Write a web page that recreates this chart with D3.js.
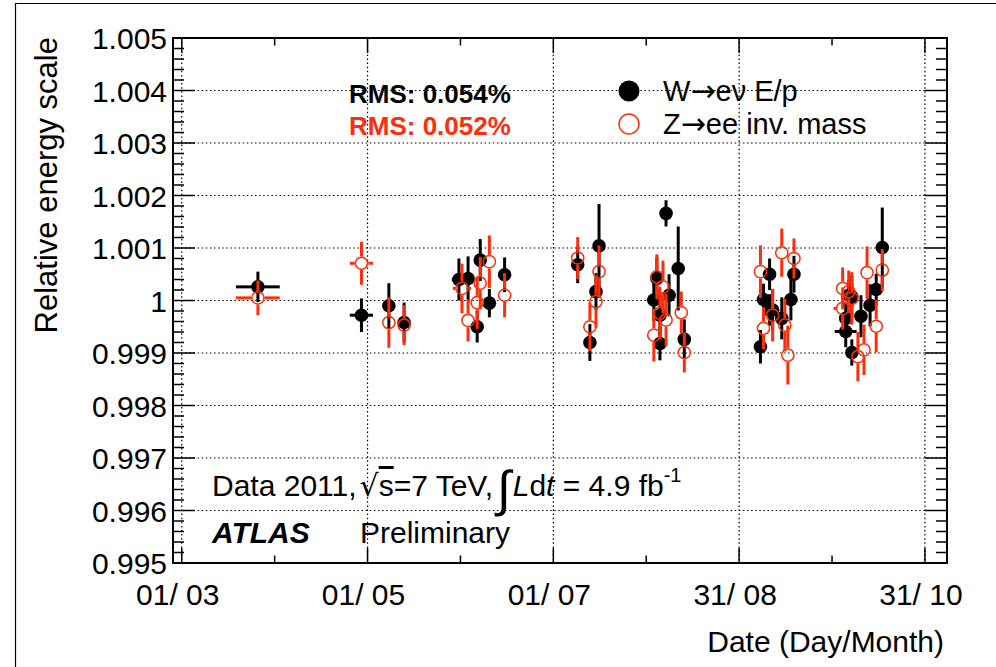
<!DOCTYPE html>
<html>
<head>
<meta charset="utf-8">
<script src="https://cdn.jsdelivr.net/npm/d3@7"></script>
<style>
  body { margin: 0; background: #fff; }
  svg { font-family: 'Liberation Sans', Arial, Helvetica, sans-serif; }
</style>
</head>
<body>
<div class="canva"></div>
<script>
// W -> e nu  E/p  (black, filled)
const wDates  = ['2011-03-26','2011-04-29','2011-05-08','2011-05-13',
                 '2011-05-31','2011-06-03','2011-06-06','2011-06-07','2011-06-10','2011-06-15',
                 '2011-07-09','2011-07-16','2011-07-15','2011-07-13',
                 '2011-08-07','2011-08-11','2011-08-13','2011-08-03','2011-08-04','2011-08-08','2011-08-05','2011-08-05',
                 '2011-09-07','2011-09-08','2011-09-10','2011-09-10','2011-09-11','2011-09-14','2011-09-17','2011-09-18',
                 '2011-10-05','2011-10-05','2011-10-06','2011-10-07','2011-10-07','2011-10-10','2011-10-13','2011-10-15','2011-10-17'];
const wValues = [1.00026, 0.99972, 0.99990, 0.99958,
                 1.00040, 1.00042, 0.99950, 1.00077, 0.99995, 1.00049,
                 1.00068, 1.00104, 1.00017, 0.99920,
                 1.00166, 1.00061, 0.99926, 1.00001, 1.00042, 1.00010, 0.99972, 0.99918,
                 0.99912, 1.00002, 0.99982, 1.00050, 0.99982, 0.99966, 1.00002, 1.00050,
                 0.99941, 0.99966, 1.00010, 1.00007, 0.99901, 0.99970, 0.99991, 1.00021, 1.00101];
const wErrors = [0.00029, 0.00032, 0.00043, 0.00038,
                 0.00040, 0.00042, 0.00030, 0.00040, 0.00027, 0.00033,
                 0.00035, 0.00080, 0.00035, 0.00035,
                 0.00025, 0.00080, 0.00038, 0.00040, 0.00040, 0.00040, 0.00040, 0.00032,
                 0.00032, 0.00030, 0.00030, 0.00030, 0.00040, 0.00040, 0.00040, 0.00035,
                 0.00030, 0.00030, 0.00030, 0.00040, 0.00025, 0.00040, 0.00040, 0.00030, 0.00076];
const wDayErr = [7.2, 3.8, 0, 0,
                 2.3, 0, 0, 0, 0, 0,
                 0, 0, 0, 0,
                 0, 0, 0, 2.3, 0, 0, 0, 0,
                 0, 0, 0, 0, 0, 0, 0, 0,
                 3.6, 0, 0, 0, 0, 0, 0, 0, 0];

// Z -> ee invariant mass (red, open)
const zDates  = ['2011-03-26','2011-04-29','2011-05-08','2011-05-13',
                 '2011-06-01','2011-06-10','2011-06-07','2011-06-15','2011-06-06','2011-06-03',
                 '2011-07-09','2011-07-16','2011-07-15','2011-07-13',
                 '2011-08-04','2011-08-06','2011-08-05','2011-08-07','2011-08-03','2011-08-12','2011-08-13',
                 '2011-09-07','2011-09-14','2011-09-18','2011-09-11','2011-09-15','2011-09-08','2011-09-16',
                 '2011-10-04','2011-10-04','2011-10-06','2011-10-07','2011-10-11','2011-10-09','2011-10-12','2011-10-15','2011-10-17'];
const zValues = [1.00005, 1.00071, 0.99958, 0.99953,
                 1.00023, 1.00074, 1.00033, 1.00010, 0.99996, 0.99962,
                 1.00081, 1.00055, 0.99998, 0.99950,
                 1.00045, 1.00026, 0.99976, 0.99963, 0.99934, 0.99977, 0.99901,
                 1.00055, 1.00091, 1.00080, 0.99972, 0.99953, 0.99947, 0.99896,
                 0.99985, 1.00023, 1.00017, 1.00004, 0.99906, 0.99893, 1.00053, 0.99951, 1.00058];
const zErrors = [0.00033, 0.00041, 0.00048, 0.00038,
                 0.00047, 0.00050, 0.00050, 0.00042, 0.00050, 0.00040,
                 0.00040, 0.00050, 0.00050, 0.00046,
                 0.00043, 0.00050, 0.00050, 0.00050, 0.00050, 0.00040, 0.00038,
                 0.00050, 0.00046, 0.00038, 0.00050, 0.00050, 0.00040, 0.00056,
                 0.00040, 0.00040, 0.00040, 0.00050, 0.00048, 0.00047, 0.00050, 0.00050, 0.00040];
const zDayErr = [7.2, 3.8, 0, 0,
                 3, 0, 0, 0, 0, 0,
                 0, 0, 0, 0,
                 0, 0, 0, 0, 2, 0, 0,
                 0, 0, 0, 0, 0, 0, 0,
                 3, 0, 0, 0, 0, 0, 0, 0, 0];

const yTicks = [0.995, 0.996, 0.997, 0.998, 0.999, 1, 1.001, 1.002, 1.003, 1.004, 1.005];
const yTickLabels = ['0.995','0.996','0.997','0.998','0.999','1','1.001','1.002','1.003','1.004','1.005'];
const xTicks = ['2011-03-01','2011-05-01','2011-07-01','2011-08-31','2011-10-31'];
const xTickLabels = ['01/ 03','01/ 05','01/ 07','31/ 08','31/ 10'];

const red = '#ff2d0a';
const parse = d3.utcParse('%Y-%m-%d');

const W = 996, H = 667;
const L = 173, R = 947, T = 38, B = 563;

const svg = d3.select('.canva').append('svg')
  .attr('width', W)
  .attr('height', H);

// outer canvas border
svg.append('path')
  .attr('d', 'M15.5,' + H + 'V3.5H' + W)
  .attr('fill', 'none')
  .attr('stroke', '#000')
  .attr('stroke-width', 1.2);

const x = d3.scaleUtc()
  .domain([new Date(Date.UTC(2011, 1, 26, 3)), new Date(Date.UTC(2011, 10, 7, 6))])
  .range([L, R]);
const y = d3.scaleLinear()
  .domain([0.995, 1.005])
  .range([B, T]);

const xMajor = xTicks.map(parse);
const xMinor = d3.pairs(xMajor).map(p => new Date((+p[0] + +p[1]) / 2));
xMinor.push(new Date(+xMajor[4] + (xMajor[4] - xMajor[3]) / 2));
const yMinor = d3.range(0, 51).map(i => 0.995 + i * 0.0002).filter(v => Math.abs(v * 1000 - Math.round(v * 1000)) > 1e-6);

// grid
const grid = svg.append('g')
  .attr('stroke', '#000')
  .attr('stroke-width', 1.2)
  .attr('stroke-dasharray', '1.5,2.6');
grid.selectAll('.gx').data(xMajor).enter().append('line')
  .attr('x1', d => x(d)).attr('x2', d => x(d))
  .attr('y1', T).attr('y2', B);
grid.selectAll('.gy').data(yTicks.slice(1, -1)).enter().append('line')
  .attr('x1', L).attr('x2', R)
  .attr('y1', d => y(d)).attr('y2', d => y(d));

// ticks (all four sides)
const ticks = svg.append('g').attr('stroke', '#000').attr('stroke-width', 1.5);
function xTickMarks(data, len) {
  data.forEach(d => {
    ticks.append('line').attr('x1', x(d)).attr('x2', x(d)).attr('y1', B).attr('y2', B - len);
    ticks.append('line').attr('x1', x(d)).attr('x2', x(d)).attr('y1', T).attr('y2', T + len);
  });
}
function yTickMarks(data, len) {
  data.forEach(d => {
    ticks.append('line').attr('x1', L).attr('x2', L + len).attr('y1', y(d)).attr('y2', y(d));
    ticks.append('line').attr('x1', R).attr('x2', R - len).attr('y1', y(d)).attr('y2', y(d));
  });
}
xTickMarks(xMajor, 15);
xTickMarks(xMinor, 7.5);
yTickMarks(yTicks, 22);
yTickMarks(yMinor, 11);

// frame
svg.append('rect')
  .attr('x', L).attr('y', T)
  .attr('width', R - L).attr('height', B - T)
  .attr('fill', 'none')
  .attr('stroke', '#000')
  .attr('stroke-width', 2);

// axis labels
svg.append('g').selectAll('text').data(yTicks).enter().append('text')
  .attr('x', 167)
  .attr('y', d => y(d) + 11)
  .attr('text-anchor', 'end')
  .attr('font-size', 30)
  .text((d, i) => yTickLabels[i]);

svg.append('g').selectAll('text').data(xMajor).enter().append('text')
  .attr('x', d => x(d) - 4)
  .attr('y', 605)
  .attr('text-anchor', 'middle')
  .attr('font-size', 30)
  .text((d, i) => xTickLabels[i]);

svg.append('text')
  .attr('transform', 'translate(57,37) rotate(-90)')
  .attr('text-anchor', 'end')
  .attr('font-size', 31)
  .text('Relative energy scale');

svg.append('text')
  .attr('x', 944).attr('y', 652)
  .attr('text-anchor', 'end')
  .attr('font-size', 30)
  .text('Date (Day/Month)');

// data
function series(dates, vals, errs, dx) {
  return dates.map((d, i) => ({ date: parse(d), v: vals[i], e: errs[i], dx: dx[i] }));
}
const wData = series(wDates, wValues, wErrors, wDayErr);
const zData = series(zDates, zValues, zErrors, zDayErr);
const r = 6.8;

function drawSeries(data, color, filled) {
  const g = svg.append('g');
  data.forEach(d => {
    const cx = x(d.date), cy = y(d.v);
    const gap = filled ? 0 : r;
    g.append('line').attr('x1', cx).attr('x2', cx)
      .attr('y1', y(d.v + d.e)).attr('y2', cy - gap)
      .attr('stroke', color).attr('stroke-width', 3);
    g.append('line').attr('x1', cx).attr('x2', cx)
      .attr('y1', cy + gap).attr('y2', y(d.v - d.e))
      .attr('stroke', color).attr('stroke-width', 3);
    if (d.dx > 0) {
      const x0 = x(d3.utcHour.offset(d.date, -d.dx * 24));
      const x1 = x(d3.utcHour.offset(d.date, d.dx * 24));
      g.append('line').attr('x1', x0).attr('x2', cx - gap).attr('y1', cy).attr('y2', cy)
        .attr('stroke', color).attr('stroke-width', 3);
      g.append('line').attr('x1', cx + gap).attr('x2', x1).attr('y1', cy).attr('y2', cy)
        .attr('stroke', color).attr('stroke-width', 3);
    }
  });
  g.selectAll('circle').data(data).enter().append('circle')
    .attr('cx', d => x(d.date))
    .attr('cy', d => y(d.v))
    .attr('r', filled ? r : r - 0.7)
    .attr('fill', filled ? color : 'none')
    .attr('stroke', color)
    .attr('stroke-width', filled ? 0 : 1.5);
}
drawSeries(wData, '#000', true);
drawSeries(zData, red, false);

// RMS text
svg.append('text').attr('x', 349).attr('y', 103)
  .attr('font-size', 26).attr('font-weight', 'bold')
  .text('RMS: 0.054%');
svg.append('text').attr('x', 349).attr('y', 135)
  .attr('font-size', 26).attr('font-weight', 'bold').attr('fill', red)
  .text('RMS: 0.052%');

// legend
svg.append('circle').attr('cx', 629).attr('cy', 91).attr('r', 10.5).attr('fill', '#000');
svg.append('circle').attr('cx', 629).attr('cy', 124).attr('r', 10).attr('fill', 'none')
  .attr('stroke', red).attr('stroke-width', 1.5);
const leg1 = svg.append('text').attr('x', 663).attr('y', 101).attr('font-size', 29);
leg1.append('tspan').text('W');
leg1.append('tspan').attr('font-family', 'DejaVu Sans').attr('font-size', 30).text('\u2192');
leg1.append('tspan').text('e\u03bd E/p');
const leg2 = svg.append('text').attr('x', 663).attr('y', 134).attr('font-size', 29);
leg2.append('tspan').text('Z');
leg2.append('tspan').attr('font-family', 'DejaVu Sans').attr('font-size', 30).text('\u2192');
leg2.append('tspan').text('ee inv. mass');

// labels
const info = svg.append('text').attr('x', 212).attr('y', 496).attr('font-size', 30);
info.append('tspan').text('Data 2011,');
info.append('tspan').attr('font-family', 'DejaVu Sans').attr('dx', 3).text('\u221a');
info.append('tspan').style('text-decoration', 'overline').text('s');
info.append('tspan').text('=7 TeV,');
info.append('tspan').attr('x', 497).attr('font-size', 50).attr('dy', 10).text('\u222b');
info.append('tspan').attr('font-style', 'italic').attr('dy', -10).attr('dx', 2).text('L');
info.append('tspan').text('d');
info.append('tspan').attr('font-style', 'italic').text('t');
info.append('tspan').text(' = 4.9 fb');
info.append('tspan').attr('font-size', 20).attr('dy', -14).text('-1');

svg.append('text').attr('x', 212).attr('y', 543)
  .attr('font-size', 30).attr('font-weight', 'bold').attr('font-style', 'italic')
  .text('ATLAS');
svg.append('text').attr('x', 360).attr('y', 543)
  .attr('font-size', 30)
  .text('Preliminary');
</script>
</body>
</html>
